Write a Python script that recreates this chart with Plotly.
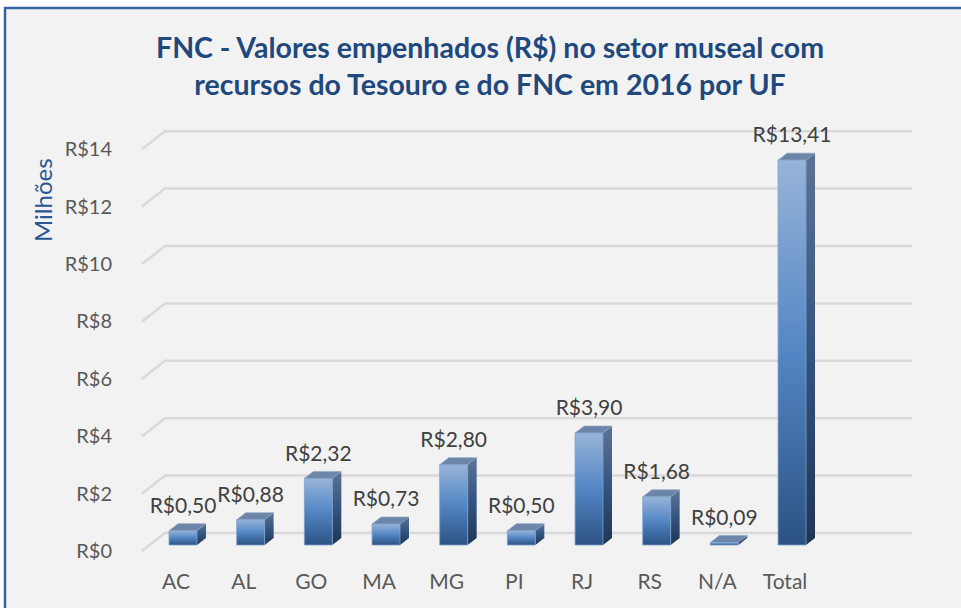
import plotly.graph_objects as go

# ---------------- data ----------------
categories = ["AC", "AL", "GO", "MA", "MG", "PI", "RJ", "RS", "N/A", "Total"]
values = [0.50, 0.88, 2.32, 0.73, 2.80, 0.50, 3.90, 1.68, 0.09, 13.41]
y_ticks = [0, 2, 4, 6, 8, 10, 12, 14]
y_tick_labels = ["R$0", "R$2", "R$4", "R$6", "R$8", "R$10", "R$12", "R$14"]
title_lines = ["FNC - Valores empenhados (R$) no setor museal com",
               "recursos do Tesouro e do FNC em 2016 por UF"]
y_title = "Milhões"

# ---------------- styling / 3D geometry (axis units) ----------------
FONT = "Lato"
BAR_L, BAR_R = -0.103, 0.310      # front face extent relative to category
DEPTH_X, DEPTH_Y = 0.133, 0.244   # bar depth offset
WALL_FX, WALL_FY = -0.502, -0.209 # front-left corner of gridline
WALL_BX, WALL_BY = -0.163, 0.418  # back-left corner of gridline
WALL_RX = 10.876                  # right end of back gridlines

FRONT_SCALE = [[0, "#2c5283"], [0.5, "#5386c4"], [1, "#97b4d9"]]
SIDE_SCALE = [[0, "#1e3555"], [0.5, "#34557f"], [1, "#5c7396"]]
TOP_COLOR = "#6c85a8"

W, H = 961, 608
# plot area in figure pixels
PL, PR, PT, PB = 135, 920, 100, 560

fig = go.Figure()

# back-wall gridlines with left diagonal
for t in y_ticks:
    fig.add_trace(go.Scatter(
        x=[WALL_FX, WALL_BX, WALL_RX],
        y=[t + WALL_FY, t + WALL_BY, t + WALL_BY],
        mode="lines", line=dict(color="#d9d9d9", width=2.5),
        hoverinfo="skip", showlegend=False))

# 3D bars
for i, v in enumerate(values):
    x0, x1 = i + BAR_L, i + BAR_R
    # side face
    fig.add_trace(go.Scatter(
        x=[x1, x1 + DEPTH_X, x1 + DEPTH_X, x1, x1],
        y=[0, DEPTH_Y, v + DEPTH_Y, v, 0],
        mode="lines", fill="toself", line=dict(width=0, color="rgba(0,0,0,0)"),
        fillgradient=dict(type="vertical", colorscale=SIDE_SCALE),
        hoverinfo="skip", showlegend=False))
    # top face
    fig.add_trace(go.Scatter(
        x=[x0, x1, x1 + DEPTH_X, x0 + DEPTH_X, x0],
        y=[v, v, v + DEPTH_Y, v + DEPTH_Y, v],
        mode="lines", fill="toself", fillcolor=TOP_COLOR,
        line=dict(width=0.6, color="#8aa2c2"),
        hoverinfo="skip", showlegend=False))
    # front face
    fig.add_trace(go.Scatter(
        x=[x0, x1, x1, x0, x0],
        y=[0, 0, v, v, 0],
        mode="lines", fill="toself", line=dict(width=0.8, color="#7d9fcc"),
        fillgradient=dict(type="vertical", colorscale=FRONT_SCALE),
        hoverinfo="skip", showlegend=False))

# data labels
fig.add_trace(go.Scatter(
    x=[i + (BAR_L + BAR_R) / 2 for i in range(len(values))],
    y=[v + DEPTH_Y + 0.19 for v in values],
    mode="text",
    text=["R$" + f"{v:.2f}".replace(".", ",") for v in values],
    textposition="top center",
    textfont=dict(family=FONT, size=21, color="#404040"),
    hoverinfo="skip", showlegend=False))

# chart area background + border
def px_x(p):
    return (p - PL) / (PR - PL)

def px_y(p):
    return (PB - p) / (PB - PT)

fig.add_shape(type="rect", xref="paper", yref="paper",
              x0=px_x(5), x1=px_x(1000), y0=px_y(660), y1=px_y(8),
              fillcolor="#f2f2f2", line=dict(color="#3463a0", width=2.5),
              layer="below")

fig.add_annotation(text=y_title, textangle=-90, xref="paper", yref="paper",
                   x=px_x(42), y=px_y(200),
                   showarrow=False, xanchor="center", yanchor="middle",
                   font=dict(family=FONT, size=24, color="#2a5694"))

fig.update_layout(
    width=W, height=H,
    margin=dict(l=PL, r=W - PR, t=PT, b=H - PB),
    paper_bgcolor="white", plot_bgcolor="rgba(0,0,0,0)",
    title=dict(text="<br>".join(title_lines), x=490 / W, xanchor="center",
               y=1 - 58 / H, yanchor="middle", yref="container",
               font=dict(family=FONT, size=28.5, color="#1f497d", weight="bold")),
    xaxis=dict(range=[(PL - 176) / 67.67, (PR - 176) / 67.67],
               tickvals=list(range(len(categories))), ticktext=categories,
               showgrid=False, zeroline=False, showline=False,
               ticks="outside", ticklen=3, tickcolor="rgba(0,0,0,0)",
               tickfont=dict(family=FONT, size=21, color="#595959")),
    yaxis=dict(range=[(545 - PB) / 28.7, (545 - PT) / 28.7],
               tickvals=[t + WALL_FY for t in y_ticks], ticktext=y_tick_labels,
               showgrid=False, zeroline=False, showline=False,
               ticks="outside", ticklen=18, tickcolor="rgba(0,0,0,0)",
               tickfont=dict(family=FONT, size=20, color="#595959")),
)

fig.write_html(
    "out.html",
    config={"displayModeBar": False},
    post_script="document.body.style.margin='0';document.body.style.overflow='hidden';",
)
